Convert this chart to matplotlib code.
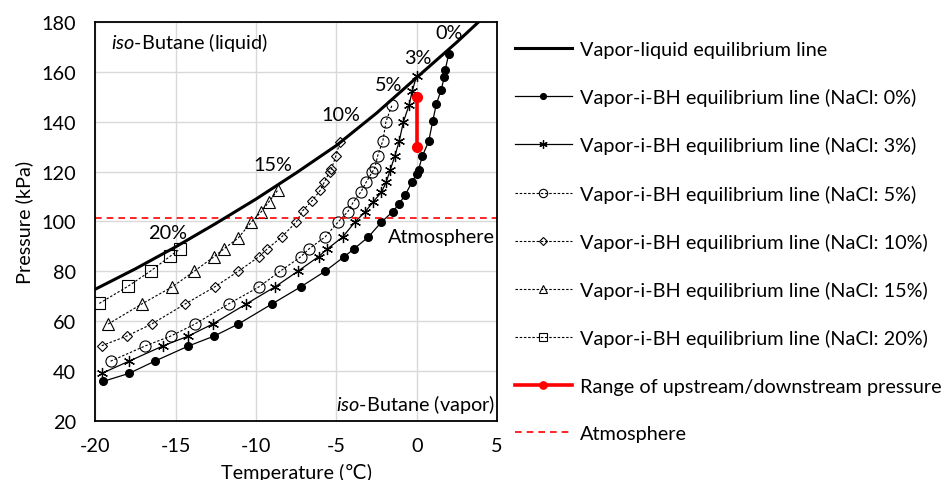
import matplotlib
matplotlib.use("Agg")
import matplotlib.pyplot as plt

plt.rcParams['font.family'] = ['Lato', 'DejaVu Sans']
plt.rcParams['mathtext.fontset'] = 'custom'
plt.rcParams['mathtext.rm'] = 'Lato'
plt.rcParams['mathtext.it'] = 'Lato:italic'
plt.rcParams['axes.unicode_minus'] = False

# vapor-liquid equilibrium line of iso-butane
vle_t = [-20, -17.5, -15, -12.5, -10, -7.5, -5, -2.5, 0, 2.5, 5]
vle_p = [72.8, 81.0, 89.8, 99.2, 109.0, 119.5, 130.5, 143.5, 157.8, 172.0, 187.0]

# vapor-i-BH equilibrium lines, by NaCl concentration
t_0 = [-19.5, -17.9, -16.3, -14.2, -12.6, -11.1, -9.0, -7.2, -5.7, -4.5, -3.9, -3.0, -2.2,
       -1.5, -1.1, -0.7, -0.3, 0.0, 0.12, 0.35, 0.75, 1.0, 1.22, 1.52, 1.72, 1.78, 2.0]
p_0 = [35.8, 39.0, 43.9, 50.0, 54.0, 58.8, 66.9, 73.8, 80.0, 85.9, 89.0, 93.8, 99.7,
       103.9, 107.0, 110.8, 115.7, 119.1, 120.8, 126.2, 132.2, 140.3, 147.0, 152.8, 157.9, 161.0, 167.3]

t_3 = [-19.6, -17.9, -15.8, -14.2, -12.7, -10.6, -8.8, -7.4, -6.1, -5.55, -4.6, -3.85,
       -3.2, -2.73, -2.2, -1.9, -1.64, -1.36, -1.09, -0.82, -0.47, -0.27, 0.0]
p_3 = [39.0, 43.9, 50.0, 54.0, 58.8, 66.9, 73.8, 80.0, 85.9, 89.0, 93.8, 99.7,
       103.9, 107.7, 111.7, 115.7, 120.8, 126.2, 132.2, 140.1, 146.8, 152.5, 158.5]

t_5 = [-19.05, -16.9, -15.3, -13.8, -11.7, -9.8, -8.5, -7.2, -6.7, -5.7, -4.9,
       -4.28, -3.97, -3.46, -3.15, -2.75, -2.6, -2.43, -2.1, -1.91, -1.53]
p_5 = [43.9, 50.0, 54.0, 58.8, 66.9, 73.8, 80.0, 85.9, 89.0, 93.8, 99.7,
       104.0, 107.5, 112.0, 115.7, 120.0, 121.6, 126.3, 132.5, 140.1, 146.8]

t_10 = [-19.6, -18.0, -16.5, -14.4, -12.55, -11.1, -9.8, -9.3, -8.4, -7.5,
        -7.1, -6.5, -6.0, -5.75, -5.41, -5.31, -5.03, -4.77]
p_10 = [50.1, 54.1, 58.8, 66.9, 73.8, 80.0, 85.9, 89.0, 93.8, 99.7,
        104.3, 108.4, 112.5, 115.8, 120.0, 121.0, 126.3, 132.0]

t_15 = [-19.2, -17.1, -15.2, -13.85, -12.6, -12.0, -11.1, -10.3, -9.67, -9.22, -8.64]
p_15 = [58.8, 66.9, 73.8, 80.0, 85.9, 89.0, 93.4, 99.7, 103.9, 107.7, 112.6]

t_20 = [-19.75, -17.96, -16.56, -15.35, -14.73]
p_20 = [67.1, 74.0, 80.1, 86.0, 89.0]

# operating range and atmosphere
range_t = [0, 0]
range_p = [130, 150]
atm_p = 101.3

fig = plt.figure(figsize=(9.53, 4.81), dpi=100)
ax = fig.add_axes([0.100, 0.1233, 0.4215, 0.8283])

dot = (0, (2.2, 1.6))
ax.plot(vle_t, vle_p, color='black', lw=2.2, label='Vapor-liquid equilibrium line', zorder=5)
ax.plot(t_0, p_0, '-o', color='black', lw=0.9, ms=5.5,
        label='Vapor-i-BH equilibrium line (NaCl: 0%)')
ax.plot(t_3, p_3, '-', marker=(6, 2, 0), color='black', lw=0.9, ms=8, mew=0.9,
        label='Vapor-i-BH equilibrium line (NaCl: 3%)')
ax.plot(t_5, p_5, ls=dot, marker='o', color='black', mfc='none', lw=0.8, ms=8, mew=0.8,
        label='Vapor-i-BH equilibrium line (NaCl: 5%)')
ax.plot(t_10, p_10, ls=dot, marker='D', color='black', mfc='none', lw=0.8, ms=5, mew=0.8,
        label='Vapor-i-BH equilibrium line (NaCl: 10%)')
ax.plot(t_15, p_15, ls=dot, marker='^', color='black', mfc='none', lw=0.8, ms=8, mew=0.8,
        label='Vapor-i-BH equilibrium line (NaCl: 15%)')
ax.plot(t_20, p_20, ls=dot, marker='s', color='black', mfc='none', lw=0.8, ms=8, mew=0.8,
        label='Vapor-i-BH equilibrium line (NaCl: 20%)')
ax.plot(range_t, range_p, '-o', color='#ff0000', lw=2.6, ms=7,
        label='Range of upstream/downstream pressure', zorder=6)
ax.axhline(atm_p, color='#ff0000', ls=(0, (4, 3)), lw=1.2, label='Atmosphere')

fs = 14.3
ax.set_xlim(-20, 5)
ax.set_ylim(20, 180)
ax.set_xticks([-20, -15, -10, -5, 0, 5])
ax.set_yticks(range(20, 181, 20))
ax.tick_params(length=0, labelsize=fs)
ax.tick_params(axis='y', pad=14)
ax.tick_params(axis='x', pad=12)
ax.grid(True, color='#d9d9d9', lw=1)
ax.set_axisbelow(True)
for s in ax.spines.values():
    s.set_linewidth(1.3)
ax.set_xlabel('Temperature (\u2103)', fontsize=fs, labelpad=6)
ax.set_ylabel('Pressure (kPa)', fontsize=fs, labelpad=6)

ax.text(-19.0, 172.2, r'$\mathit{iso}$-Butane (liquid)', fontsize=fs, va='center')
ax.text(4.9, 27.1, r'$\mathit{iso}$-Butane (vapor)', fontsize=fs, va='center', ha='right')
ax.text(4.9, 94.0, 'Atmosphere', fontsize=fs, va='center', ha='right')
for lab, x, y in [('0%', 2.0, 176), ('3%', 0.09, 166), ('5%', -1.75, 155.2),
                  ('10%', -4.75, 142.8), ('15%', -8.93, 122.8), ('20%', -15.5, 95.7)]:
    ax.text(x, y, lab, fontsize=fs, ha='center', va='center')

fig.legend(loc='upper left', bbox_to_anchor=(0.540, 0.913), frameon=False, fontsize=fs,
           handlelength=2.9, handletextpad=0.4, labelspacing=1.52, borderaxespad=0,
           borderpad=0, markerscale=0.75)

fig.savefig('out.png', dpi=100)
